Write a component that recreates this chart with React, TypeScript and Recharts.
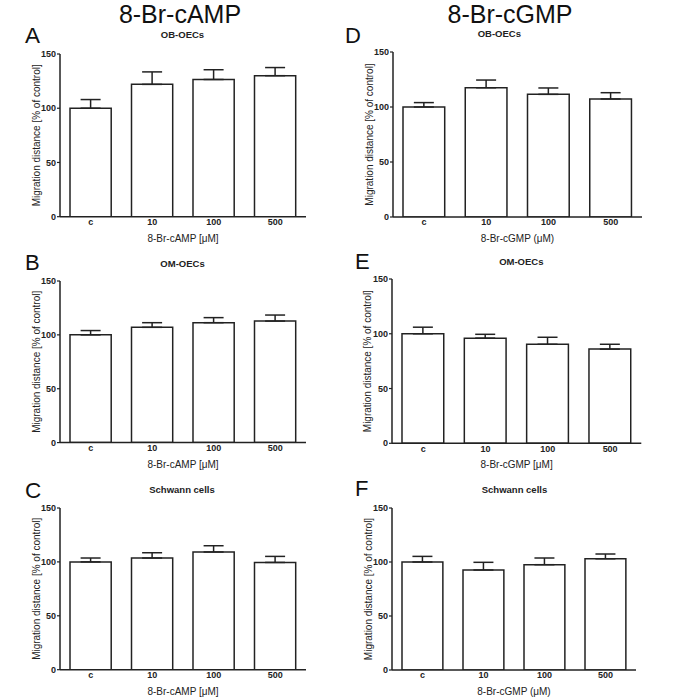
import React from 'react';
import { BarChart, Bar, XAxis, YAxis, ErrorBar } from 'recharts';

const categories = ['c', '10', '100', '500'];
const yTicks = [0, 50, 100, 150];

// means and upper error-bar ends
const aMean = [100, 122, 126.5, 130];
const aTop = [108, 133.5, 135.5, 137.5];
const bMean = [100, 107, 111.3, 112.8];
const bTop = [104, 111.3, 116, 118.4];
const cMean = [100, 103.6, 109.2, 99.5];
const cTop = [103.6, 108.5, 115, 105.1];
const dMean = [100, 117.5, 111.5, 107.3];
const dTop = [104, 124.5, 117.3, 113];
const eMean = [100, 96, 90.4, 86];
const eTop = [106, 99.5, 96.8, 90.4];
const fMean = [100, 92.6, 97.5, 103];
const fTop = [105.2, 99.7, 103.7, 107.4];

const yLabel = 'Migration distance [% of control]';
const campLabel = '8-Br-cAMP [\u03bcM]';
const cgmpLabelParen = '8-Br-cGMP (\u03bcM)';
const cgmpLabelBracket = '8-Br-cGMP [\u03bcM]';

const FONT = '"Liberation Sans", Arial, Helvetica, sans-serif';
const INK = '#222';

function build(means: number[], tops: number[]) {
  return categories.map((cat, i) => ({
    cat,
    mean: means[i],
    err: [0, tops[i] - means[i]],
  }));
}

const XLab = (props: any) => {
  const vb = props.viewBox || {};
  const x = vb.x + vb.width / 2;
  const y = vb.y + 21.5;
  return (
    <text x={x} y={y} textAnchor="middle" dominantBaseline="central" fontSize={10} fill={INK} fontFamily={FONT}>
      {props.text}
    </text>
  );
};

const YLab = (props: any) => {
  const vb = props.viewBox || {};
  const x = vb.x + vb.width - 24;
  const y = vb.y + vb.height / 2;
  return (
    <text
      x={x}
      y={y}
      transform={`rotate(-90 ${x} ${y})`}
      textAnchor="middle"
      dominantBaseline="central"
      fontSize={10}
      fill={INK}
      fontFamily={FONT}
    >
      {yLabel}
    </text>
  );
};

type PanelProps = {
  left: number;
  top: number;
  right: number;
  bottom: number;
  data: any[];
  xLabel: string;
};

const Panel = ({ left, top, right, bottom, data, xLabel }: PanelProps) => {
  const W = right - left;
  const H = bottom - top;
  const mL = 60;
  const mT = 10;
  const mR = 10;
  const xH = 35;
  const band = W / categories.length;
  return (
    <div style={{ position: 'absolute', left: left - mL, top: top - mT }}>
      <BarChart
        width={W + mL + mR}
        height={H + mT + xH}
        data={data}
        margin={{ top: mT, right: mR, bottom: 0, left: 0 }}
        barSize={band * 0.67}
      >
        <XAxis
          dataKey="cat"
          height={xH}
          axisLine={{ stroke: INK, strokeWidth: 1.5 }}
          tickLine={false}
          tickSize={0}
          tickMargin={2}
          tick={{ fontSize: 9, fontWeight: 'bold', fill: INK, fontFamily: FONT }}
          interval={0}
          label={<XLab text={xLabel} />}
        />
        <YAxis
          width={mL}
          domain={[0, 150]}
          ticks={yTicks}
          interval={0}
          axisLine={{ stroke: INK, strokeWidth: 1.5 }}
          tickLine={{ stroke: INK, strokeWidth: 1.2 }}
          tickSize={3}
          tickMargin={1}
          tick={{ fontSize: 9, fontWeight: 'bold', fill: INK, fontFamily: FONT }}
          allowDataOverflow
          label={<YLab />}
        />
        <Bar dataKey="mean" fill="#ffffff" stroke={INK} strokeWidth={1.5} isAnimationActive={false}>
          <ErrorBar dataKey="err" direction="y" width={10} stroke={INK} strokeWidth={1.5} isAnimationActive={false} />
        </Bar>
      </BarChart>
    </div>
  );
};

export default function App() {
  return (
    <div style={{ position: 'absolute', left: 0, top: 0, width: 685, height: 699, background: '#fff', overflow: 'hidden' }}>
      <Panel left={60} top={54} right={306} bottom={216.7} data={build(aMean, aTop)} xLabel={campLabel} />
      <Panel left={60} top={280.7} right={306} bottom={442.3} data={build(bMean, bTop)} xLabel={campLabel} />
      <Panel left={60} top={508.3} right={306} bottom={670} data={build(cMean, cTop)} xLabel={campLabel} />
      <Panel left={392.7} top={52.3} right={641.7} bottom={217.3} data={build(dMean, dTop)} xLabel={cgmpLabelParen} />
      <Panel left={391.7} top={279} right={641} bottom={443.3} data={build(eMean, eTop)} xLabel={cgmpLabelBracket} />
      <Panel left={392} top={508} right={636} bottom={670} data={build(fMean, fTop)} xLabel={cgmpLabelParen} />
      <svg width={685} height={699} style={{ position: 'absolute', left: 0, top: 0, pointerEvents: 'none' }}>
        <g fontFamily={FONT} fill="#111">
          <text x={180} y={23.3} textAnchor="middle" fontSize={25}>8-Br-cAMP</text>
          <text x={510} y={23.3} textAnchor="middle" fontSize={25}>8-Br-cGMP</text>
          <text x={25} y={43.3} fontSize={22.5}>A</text>
          <text x={25} y={270} fontSize={22}>B</text>
          <text x={25} y={498} fontSize={22.5}>C</text>
          <text x={345} y={43} fontSize={22}>D</text>
          <text x={355} y={269.3} fontSize={22}>E</text>
          <text x={355} y={496} fontSize={22}>F</text>
        </g>
        <g fontFamily={FONT} fill={INK} fontWeight="bold" fontSize={9.5} textAnchor="middle">
          <text x={182.5} y={38.4}>OB-OECs</text>
          <text x={182.5} y={267.1}>OM-OECs</text>
          <text x={182} y={493.1}>Schwann cells</text>
          <text x={499.3} y={37.1}>OB-OECs</text>
          <text x={521.3} y={265.1}>OM-OECs</text>
          <text x={514.5} y={493.1}>Schwann cells</text>
        </g>
      </svg>
    </div>
  );
}
